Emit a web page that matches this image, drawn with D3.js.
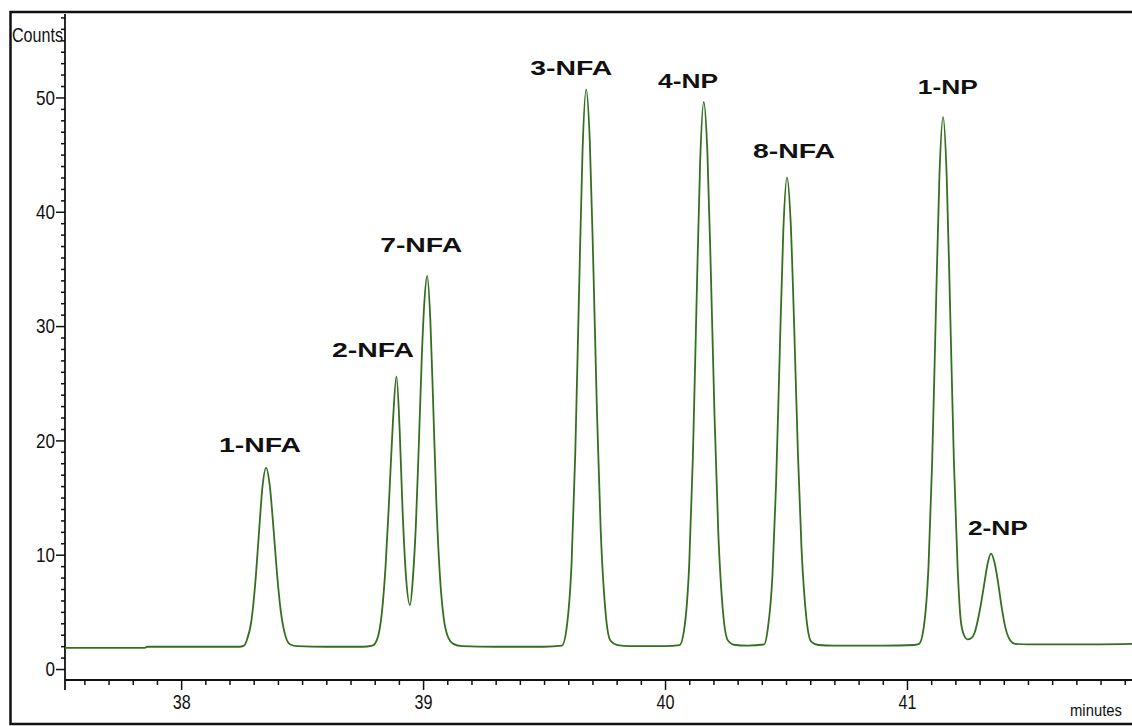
<!DOCTYPE html>
<html>
<head>
<meta charset="utf-8">
<script src="https://cdn.jsdelivr.net/npm/d3@7"></script>
<style>
    body { margin: 0; background: #fff; }
    #chart svg { display: block; }
</style>
</head>
<body>
<div id="chart"></div>
<script>
// trace: retention time (minutes) and signal (counts)
const trace_time = [
    37.52, 37.70, 37.85, 37.86, 38.10, 38.24,
    38.26, 38.271, 38.291, 38.306, 38.321, 38.336, 38.351, 38.366, 38.381, 38.396, 38.411, 38.431, 38.451, 38.48,
    38.60, 38.75,
    38.79, 38.81, 38.83, 38.845, 38.86, 38.875, 38.89, 38.903, 38.915, 38.928, 38.946,
    38.958, 38.97, 38.983, 38.995, 39.005, 39.017, 39.03, 39.042, 39.055, 39.07, 39.085, 39.105, 39.125, 39.16,
    39.30, 39.50,
    39.574, 39.594, 39.614, 39.629, 39.644, 39.659, 39.674, 39.689, 39.704, 39.719, 39.734, 39.754, 39.774, 39.804, 39.854,
    40.00,
    40.06, 40.08, 40.10, 40.115, 40.13, 40.145, 40.16, 40.175, 40.19, 40.205, 40.22, 40.24, 40.26, 40.29, 40.34,
    40.41, 40.424, 40.444, 40.459, 40.474, 40.489, 40.504, 40.519, 40.534, 40.549, 40.564, 40.584, 40.604, 40.634, 40.70,
    40.90, 41.03,
    41.05, 41.069, 41.089, 41.104, 41.119, 41.134, 41.149, 41.164, 41.179, 41.194, 41.209, 41.222, 41.235,
    41.25, 41.265, 41.28, 41.292, 41.305, 41.319, 41.334, 41.347, 41.362, 41.377, 41.392, 41.407, 41.427, 41.447, 41.50,
    41.70, 41.93
];
const trace_counts = [
    1.85, 1.85, 1.85, 1.95, 1.95, 1.95,
    2.05, 2.5, 4.3, 7.4, 11.7, 15.9, 17.6, 16.1, 12.5, 8.4, 5.2, 2.9, 2.15, 2.0,
    1.95, 1.95,
    2.05, 2.6, 5.0, 9.0, 15.0, 21.5, 25.6, 21.0, 14.0, 8.5, 5.6,
    8.0, 12.5, 20.0, 27.5, 32.0, 34.4, 30.5, 23.0, 14.5, 8.0, 4.5, 2.7, 2.2, 2.0,
    1.95, 1.95,
    2.05, 3.7, 9.4, 18.9, 32.4, 45.3, 50.7, 46.2, 35.0, 22.2, 12.2, 5.0, 2.5, 2.1, 2.0,
    2.0,
    2.1, 3.6, 9.2, 18.5, 31.8, 44.3, 49.6, 45.2, 34.2, 21.8, 12.0, 4.9, 2.5, 2.1, 2.05,
    2.15, 3.4, 8.2, 16.2, 27.6, 38.4, 43.0, 39.2, 29.8, 19.0, 10.6, 4.5, 2.4, 2.1, 2.05,
    2.05, 2.1,
    2.2, 3.6, 9.0, 18.1, 30.9, 43.1, 48.3, 43.2, 30.9, 18.1, 9.0, 4.3, 3.0,
    2.6, 2.7, 3.2, 4.2, 5.6, 7.4, 9.3, 10.1, 9.3, 7.5, 5.3, 3.6, 2.5, 2.2, 2.15,
    2.15, 2.2
];

// peak names and the point (minutes, counts) each label is centred on
const peak_names = ["1-NFA", "2-NFA", "7-NFA", "3-NFA", "4-NP", "8-NFA", "1-NP", "2-NP"];
const label_time = [38.326, 38.793, 38.992, 39.612, 40.095, 40.533, 41.169, 41.376];
const label_counts = [18.97, 27.27, 36.45, 52.0, 50.8, 44.67, 50.26, 11.71];

const x_major_ticks = [38, 39, 40, 41];
const y_major_ticks = [0, 10, 20, 30, 40, 50];

function draw_chart() {
    const width = 1132;
    const height = 726;
    const line_color = "#346f20";
    const axis_color = "#111";
    const narrow_font = "'Liberation Sans Narrow', 'Arial Narrow', 'Liberation Sans', Arial, sans-serif";

    const svg = d3.select("#chart").append("svg")
        .attr("width", width)
        .attr("height", height);

    // plot area: x axis sits at y=680, y axis at x=65
    const x_scale = d3.scaleLinear()
        .domain([37.52, 41.93])
        .range([65, 1132]);
    const y_scale = d3.scaleLinear()
        .domain([-0.96, 57.3])
        .range([680, 14]);

    // outer frame (its right side runs off the picture)
    svg.append("path")
        .attr("d", "M1132,12 H10.5 V724 H1132")
        .attr("fill", "none")
        .attr("stroke", axis_color)
        .attr("stroke-width", 2.5);

    // minor ticks
    const x_minor = d3.range(376, 420).map(d => d / 10).filter(d => !x_major_ticks.includes(d));
    const y_minor = d3.range(0, 58).filter(d => d % 10 !== 0);

    svg.append("g")
        .attr("transform", "translate(0,680)")
        .call(d3.axisBottom(x_scale).tickValues(x_minor).tickSize(5).tickSizeOuter(0).tickFormat(""))
        .call(g => g.select(".domain").remove());

    svg.append("g")
        .attr("transform", "translate(65,0)")
        .call(d3.axisLeft(y_scale).tickValues(y_minor).tickSize(4).tickSizeOuter(0).tickFormat(""))
        .call(g => g.select(".domain").remove());

    // major ticks with labels
    const x_axis = svg.append("g")
        .attr("transform", "translate(0,680)")
        .call(d3.axisBottom(x_scale).tickValues(x_major_ticks).tickSize(10).tickPadding(4).tickFormat(d3.format("d")))
        .call(g => g.select(".domain").remove());
    x_axis.selectAll("text")
        .attr("font-family", narrow_font)
        .attr("font-size", 21)
        .attr("fill", "#111")
        .attr("textLength", 18)
        .attr("lengthAdjust", "spacingAndGlyphs");

    const y_axis = svg.append("g")
        .attr("transform", "translate(65,0)")
        .call(d3.axisLeft(y_scale).tickValues(y_major_ticks).tickSize(9).tickPadding(1).tickFormat(d3.format("d")))
        .call(g => g.select(".domain").remove());
    y_axis.selectAll("text")
        .attr("font-family", narrow_font)
        .attr("font-size", 21)
        .attr("fill", "#111")
        .attr("textLength", d => String(d).length * 9.5)
        .attr("lengthAdjust", "spacingAndGlyphs");

    svg.selectAll(".tick line").attr("stroke", axis_color).attr("stroke-width", 1.5);

    // axis lines
    svg.append("line")
        .attr("x1", 65).attr("x2", 1132)
        .attr("y1", 680).attr("y2", 680)
        .attr("stroke", axis_color).attr("stroke-width", 1.8);
    svg.append("line")
        .attr("x1", 65).attr("x2", 65)
        .attr("y1", 14).attr("y2", 690)
        .attr("stroke", axis_color).attr("stroke-width", 1.8);

    // axis titles
    svg.append("text")
        .attr("x", 12)
        .attr("y", 42)
        .attr("font-family", narrow_font)
        .attr("font-size", 20)
        .attr("fill", "#111")
        .attr("textLength", 51)
        .attr("lengthAdjust", "spacingAndGlyphs")
        .text("Counts");
    svg.append("text")
        .attr("x", 1070)
        .attr("y", 716)
        .attr("font-family", narrow_font)
        .attr("font-size", 17)
        .attr("fill", "#111")
        .attr("textLength", 52)
        .attr("lengthAdjust", "spacingAndGlyphs")
        .text("minutes");

    // chromatogram trace
    const points = trace_time.map((t, i) => [t, trace_counts[i]]);
    const line = d3.line()
        .x(d => x_scale(d[0]))
        .y(d => y_scale(d[1]))
        .curve(d3.curveMonotoneX);
    svg.append("path")
        .datum(points)
        .attr("d", line)
        .attr("fill", "none")
        .attr("stroke", line_color)
        .attr("stroke-width", 1.8)
        .attr("stroke-linejoin", "round");

    // peak labels
    svg.selectAll(".peak-label")
        .data(peak_names)
        .join("text")
        .attr("class", "peak-label")
        .attr("x", (d, i) => x_scale(label_time[i]))
        .attr("y", (d, i) => y_scale(label_counts[i]))
        .attr("text-anchor", "middle")
        .attr("font-family", "'Liberation Sans', Arial, sans-serif")
        .attr("font-weight", "bold")
        .attr("font-size", 21)
        .attr("fill", "#111")
        .attr("textLength", d => d.endsWith("NFA") ? 82 : 60)
        .attr("lengthAdjust", "spacingAndGlyphs")
        .text(d => d);
}

draw_chart();
</script>
</body>
</html>
